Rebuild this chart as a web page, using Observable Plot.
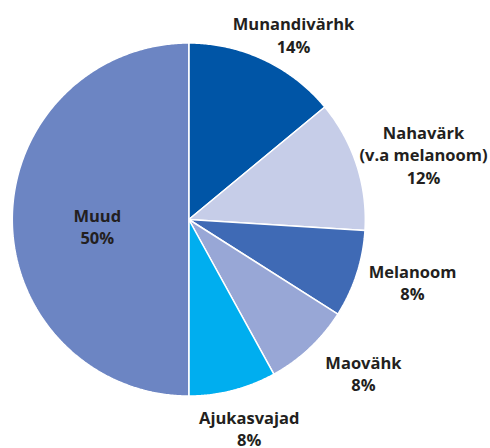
<!DOCTYPE html>
<html>
<head>
<meta charset="utf-8">
<script src="https://cdn.jsdelivr.net/npm/d3@7"></script>
<script src="https://cdn.jsdelivr.net/npm/@observablehq/plot@0.6"></script>
<style>
  html, body { margin: 0; padding: 0; background: #fff; }
</style>
</head>
<body>
<div id="chart"></div>
<script>
// Data
const categories = ["Munandivärhk", "Nahavärk", "Melanoom", "Maovähk", "Ajukasvajad", "Muud"];
const labels = ["Munandivärhk", "Nahavärk\n(v.a melanoom)", "Melanoom", "Maovähk", "Ajukasvajad", "Muud"];
const shares = [14, 12, 8, 8, 8, 50];
const colors = ["#0055a6", "#c6cde8", "#3f6ab5", "#98a7d6", "#00aeef", "#6c85c3"];

// Label layout (style): angle shift from slice mid-angle (deg) and radius factor
const labelLayout = {
  "Munandivärhk": {shift: 4.3, r: 1.205},
  "Nahavärk": {shift: 2.5, r: 1.38},
  "Melanoom": {shift: -2.4, r: 1.316},
  "Maovähk": {shift: -5.5, r: 1.317},
  "Ajukasvajad": {shift: -1.8, r: 1.228},
  "Muud": {shift: -4.1, r: 0.52}
};

const data = categories.map((c, i) => ({name: c, label: labels[i], value: shares[i]}));
const arcs = d3.pie().sort(null).value(d => d.value).startAngle(0).endAngle(2 * Math.PI)(data);

// Build slice outlines from pie angles
const pts = [];
for (const a of arcs) {
  const name = a.data.name;
  pts.push({name, x: 0, y: 0});
  const n = Math.max(2, Math.ceil((a.endAngle - a.startAngle) / (Math.PI / 360)));
  for (let k = 0; k <= n; k++) {
    const t = a.startAngle + (a.endAngle - a.startAngle) * k / n;
    pts.push({name, x: Math.sin(t), y: Math.cos(t)});
  }
  pts.push({name, x: 0, y: 0});
}

const labelPts = arcs.map(a => {
  const L = labelLayout[a.data.name];
  const mid = (a.startAngle + a.endAngle) / 2 + L.shift * Math.PI / 180;
  return {
    x: L.r * Math.sin(mid),
    y: L.r * Math.cos(mid),
    text: a.data.label + "\n" + a.data.value + "%"
  };
});

const chart = Plot.plot({
  width: 490,
  height: 448,
  marginLeft: 11.8,
  marginRight: 125.2,
  marginTop: 42.5,
  marginBottom: 52.5,
  x: {domain: [-1, 1], axis: null},
  y: {domain: [-1, 1], axis: null},
  color: {domain: categories, range: colors},
  style: {fontFamily: "'Open Sans', Lato, sans-serif", background: "#fff", overflow: "visible"},
  marks: [
    Plot.line(pts, {x: "x", y: "y", z: "name", fill: "name", stroke: "#fff", strokeWidth: 1.5, strokeLinejoin: "miter", curve: "linear"}),
    Plot.text(labelPts, {x: "x", y: "y", text: "text", fontSize: 16.5, fontWeight: "bold", fill: "#231f20", lineHeight: 1.34, textAnchor: "middle"})
  ]
});
document.getElementById("chart").appendChild(chart);
</script>
</body>
</html>
